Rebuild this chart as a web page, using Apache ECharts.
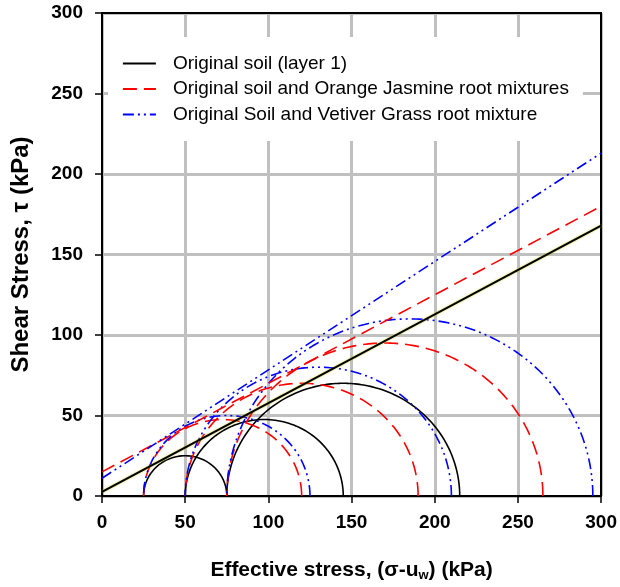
<!DOCTYPE html>
<html>
<head>
<meta charset="utf-8">
<script src="https://cdn.jsdelivr.net/npm/echarts@6/dist/echarts.min.js"></script>
<style>
html,body{margin:0;padding:0;background:#fff;}
#chart{width:620px;height:587px;}
</style>
</head>
<body>
<div id="chart"></div>
<script>
// ---- data ----
const seriesNames = [
  'Original soil (layer 1)',
  'Original soil and Orange Jasmine root mixtures',
  'Original Soil and Vetiver Grass root mixture'
];
// Mohr circles: minor / major effective principal stresses (kPa)
const soilSigma3 = [25, 50, 75];
const soilSigma1 = [75, 145, 215];
const jasmineSigma3 = [25, 50, 75];
const jasmineSigma1 = [120, 190, 265];
const vetiverSigma3 = [25, 50, 75];
const vetiverSigma1 = [125, 210, 295];
// failure envelopes: shear stress at sigma = 0 and sigma = 300 kPa
const envelopeX = [0, 300];
const soilEnvelope = [2.5, 168];
const jasmineEnvelope = [15, 180];
const vetiverEnvelope = [11, 213];
const xTicks = [0, 50, 100, 150, 200, 250, 300];
const yTicks = [0, 50, 100, 150, 200, 250, 300];

// ---- styles ----
const FONT = "'Liberation Sans', Arial, sans-serif";
const styles = [
  {color: '#000000', type: 'solid', width: 1.6},
  {color: '#ff0000', type: [14, 7], width: 1.6},
  {color: '#0000ff', type: [11, 4, 2, 4, 2, 4], width: 1.6}
];

function semicircle(s3, s1) {
  const c = (s3 + s1) / 2, r = (s1 - s3) / 2, pts = [];
  const n = 180;
  for (let i = 0; i <= n; i++) {
    const t = Math.PI * i / n;
    pts.push([c + r * Math.cos(t), r * Math.sin(t)]);
  }
  return pts;
}

const series = [];
const groups = [
  [soilSigma3, soilSigma1, soilEnvelope],
  [jasmineSigma3, jasmineSigma1, jasmineEnvelope],
  [vetiverSigma3, vetiverSigma1, vetiverEnvelope]
];
groups.forEach((g, k) => {
  const st = styles[k];
  g[0].forEach((s3, i) => {
    series.push({
      name: seriesNames[k], type: 'line', symbol: 'none', smooth: false,
      data: semicircle(s3, g[1][i]), clip: true, z: 2,
      lineStyle: {color: st.color, type: st.type, width: st.width},
      itemStyle: {color: st.color}
    });
  });
  const ls = {color: st.color, type: st.type, width: k === 0 ? 2 : st.width};
  if (k === 0) { ls.shadowColor = 'rgba(200,200,0,0.9)'; ls.shadowBlur = 2; }
  series.push({
    name: seriesNames[k], type: 'line', symbol: 'none',
    data: envelopeX.map((x, j) => [x, g[2][j]]), z: 3,
    lineStyle: ls, itemStyle: {color: st.color}
  });
});

const chart = echarts.init(document.getElementById('chart'), null, {renderer: 'canvas'});
chart.setOption({
  backgroundColor: '#fff',
  animation: false,
  grid: {left: 102, right: 18, top: 13, bottom: 79, containLabel: false},
  legend: {
    data: seriesNames, orient: 'vertical', left: 108, top: 37,
    backgroundColor: '#fff', padding: [17, 14, 17, 14],
    itemWidth: 33, itemHeight: 14, itemGap: 6.5,
    itemStyle: {opacity: 0},
    lineStyle: {width: 1.8},
    textStyle: {fontFamily: FONT, fontSize: 19, color: '#000', padding: [0, 0, 0, 12]}
  },
  xAxis: [{
    type: 'value', min: xTicks[0], max: xTicks[xTicks.length - 1], interval: 50,
    name: '{m|Effective stress, (σ-u}{sub|w}{m|) (kPa)}', nameLocation: 'middle', nameGap: 62,
    nameTextStyle: {fontFamily: FONT, fontSize: 21, fontWeight: 'bold', color: '#000',
      rich: {
        m: {fontFamily: FONT, fontSize: 21, fontWeight: 'bold', color: '#000', lineHeight: 24},
        sub: {fontFamily: FONT, fontSize: 13, fontWeight: 'bold', color: '#000', verticalAlign: 'bottom', lineHeight: 6}
      }},
    axisLine: {lineStyle: {color: '#000', width: 2}},
    axisTick: {inside: false, length: 7, lineStyle: {color: '#000', width: 1.5}},
    axisLabel: {fontFamily: FONT, fontSize: 19, fontWeight: 'bold', color: '#000', margin: 17},
    splitLine: {show: true, lineStyle: {color: '#c0c0c0', width: 3}}
  }, {
    type: 'value', position: 'top', min: 0, max: 300,
    axisLine: {show: true, onZero: false, lineStyle: {color: '#000', width: 2}},
    axisTick: {show: false}, axisLabel: {show: false}, splitLine: {show: false}
  }],
  yAxis: [{
    type: 'value', min: yTicks[0], max: yTicks[yTicks.length - 1], interval: 50,
    name: 'Shear Stress, τ (kPa)', nameLocation: 'middle', nameGap: 69, nameRotate: 90,
    nameTextStyle: {fontFamily: FONT, fontSize: 24, fontWeight: 'bold', color: '#000'},
    axisLine: {lineStyle: {color: '#000', width: 2}},
    axisTick: {inside: false, length: 7, lineStyle: {color: '#000', width: 1.5}},
    axisLabel: {fontFamily: FONT, fontSize: 19, fontWeight: 'bold', color: '#000', margin: 19},
    splitLine: {show: true, lineStyle: {color: '#c0c0c0', width: 3}}
  }, {
    type: 'value', position: 'right', min: 0, max: 300,
    axisLine: {show: true, onZero: false, lineStyle: {color: '#000', width: 2}},
    axisTick: {show: false}, axisLabel: {show: false}, splitLine: {show: false}
  }],
  series: series
});
</script>
</body>
</html>
